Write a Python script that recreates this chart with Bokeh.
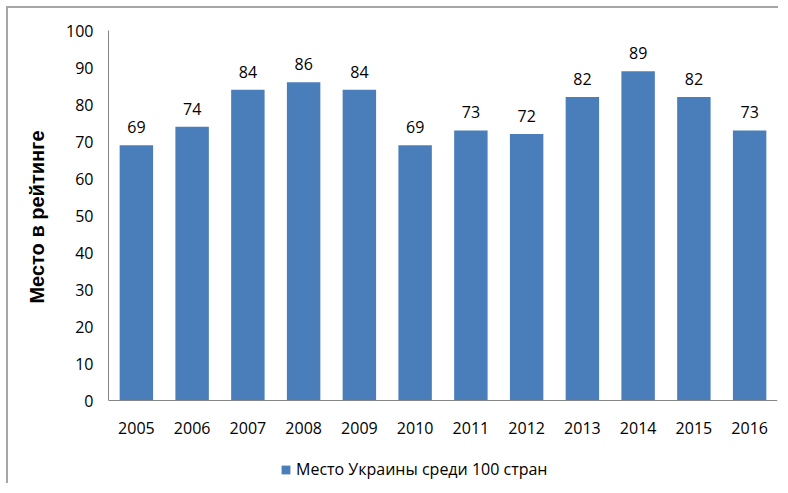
from bokeh.plotting import figure
from bokeh.models import ColumnDataSource, Range1d, FactorRange, FixedTicker, Legend, LegendItem, Title
from bokeh.core.properties import value
from bokeh.embed import file_html
from bokeh.resources import INLINE

years = ["2005", "2006", "2007", "2008", "2009", "2010", "2011", "2012", "2013", "2014", "2015", "2016"]
places = [69, 74, 84, 86, 84, 69, 73, 72, 82, 89, 82, 73]
y_ticks = [0, 10, 20, 30, 40, 50, 60, 70, 80, 90, 100]
series_name = "Место Украины среди 100 стран"
y_title = "Место в рейтинге"

src = ColumnDataSource(dict(x=years, top=places, lab=[str(v) for v in places]))

p = figure(width=772, height=477, output_backend="svg", toolbar_location=None,
           x_range=FactorRange(factors=years, range_padding=0),
           y_range=Range1d(-22.7, 100),
           min_border_left=98, min_border_right=3, min_border_top=22, min_border_bottom=1)
p.styles = {"margin-left": "6px", "margin-top": "6px",
            "border-left": "2px solid #a6a6a6", "border-top": "2px solid #a6a6a6"}

bars = p.vbar(x="x", top="top", bottom=0, width=0.6, source=src, fill_color="#4a7ebb", line_color=None)
p.text(x="x", y="top", text="lab", source=src, text_align="center", text_baseline="middle",
       y_offset=-18, text_font=value("Open Sans"), text_font_size="16px", text_color="#000000")

p.xgrid.visible = False
p.ygrid.visible = False
p.outline_line_color = None
p.background_fill_color = "white"
p.border_fill_color = "white"

for ax in (p.xaxis[0], p.yaxis[0]):
    ax.axis_line_color = "#868686"
    ax.axis_line_width = 1
    ax.major_tick_line_color = None
    ax.minor_tick_line_color = None
    ax.major_tick_out = 0
    ax.major_tick_in = 0
    ax.major_label_text_font = "Open Sans"
    ax.major_label_text_font_size = "16px"
    ax.major_label_text_color = "#000000"

p.xaxis.fixed_location = 0
p.yaxis.bounds = (0, 100)
p.yaxis.ticker = FixedTicker(ticks=y_ticks)
p.yaxis.major_label_standoff = 15
p.xaxis.major_label_standoff = 21

ytitle = Title(text=y_title, align="right", offset=100, standoff=31,
               text_font="Liberation Sans", text_font_style="bold", text_font_size="20px",
               text_color="#000000")
p.add_layout(ytitle, "left")

legend = Legend(items=[LegendItem(label=series_name, renderers=[bars])],
                location=(172, 4), orientation="horizontal",
                glyph_width=11, glyph_height=11, label_standoff=5, label_height=20,
                padding=0, margin=0, border_line_color=None, background_fill_alpha=0,
                label_text_font="Open Sans", label_text_font_size="16px", label_text_color="#000000")
p.add_layout(legend, "center")

open("out.html", "w").write(file_html(p, INLINE))
